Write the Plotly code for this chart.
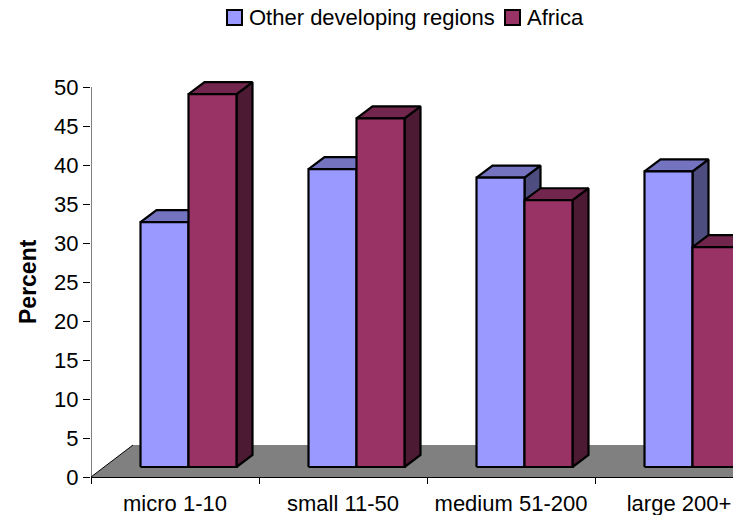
import plotly.graph_objects as go

# ---- data -------------------------------------------------------------
categories = ["micro 1-10", "small 11-50", "medium 51-200", "large 200+"]
series_names = ["Other developing regions", "Africa"]
other_developing = [31.4, 38.2, 37.1, 37.9]
africa = [47.8, 44.7, 34.2, 28.2]
y_tick_values = [0, 5, 10, 15, 20, 25, 30, 35, 40, 45, 50]

# ---- styling ----------------------------------------------------------
# face colours: front, top, side
FACE_COLORS = [
    ("#9999FF", "#7373BF", "#4D4D80"),
    ("#993366", "#73264D", "#4D1A33"),
]
FLOOR_COLOR = "#808080"
FONT = "Liberation Sans, Arial, sans-serif"
FONT_SIZE = 22

W, H = 733, 515
M_L, M_R, M_T, M_B = 91, 0, 47, 38
PX_PER_CAT = 168.0     # horizontal pixels per category
PX_PER_PCT = 7.8       # vertical pixels per percentage point
PLOT_W = W - M_L - M_R
PLOT_H = H - M_T - M_B


def ux(px):
    return px / PX_PER_CAT


def uy(px):
    return px / PX_PER_PCT


BAR_W = 1 / 3.5                 # gap width 150 %
GAP = 0.75 * BAR_W
FRONT_SHIFT = (ux(13.5), uy(10))  # bar front plane relative to floor edge
DEPTH = (ux(16), uy(12))          # depth of each bar
FLOOR_DEPTH = (ux(42), uy(32))

x_range = [-0.5, -0.5 + PLOT_W / PX_PER_CAT]
y_range = [0, PLOT_H / PX_PER_PCT]

fig = go.Figure()


def polygon(xs, ys, fill, line_color="black", line_width=2.2):
    fig.add_trace(go.Scatter(
        x=xs + [xs[0]], y=ys + [ys[0]],
        mode="lines", fill="toself", fillcolor=fill,
        line=dict(color=line_color, width=line_width),
        hoverinfo="skip", showlegend=False,
    ))


# floor of the 3-D plot
far = x_range[1] + 1
polygon([-0.5, -0.5 + FLOOR_DEPTH[0], far, far],
        [0, FLOOR_DEPTH[1], FLOOR_DEPTH[1], 0],
        FLOOR_COLOR, line_color=FLOOR_COLOR, line_width=0)
fig.add_trace(go.Scatter(
    x=[-0.5, -0.5 + FLOOR_DEPTH[0]], y=[0, FLOOR_DEPTH[1]],
    mode="lines", line=dict(color="black", width=1),
    hoverinfo="skip", showlegend=False,
))

# bars, drawn left to right so nearer faces cover the ones behind
all_series = [other_developing, africa]
for i, _ in enumerate(categories):
    for s, values in enumerate(all_series):
        v = values[i]
        front, top, side = FACE_COLORS[s]
        xl = i - 0.5 + GAP + s * BAR_W + FRONT_SHIFT[0]
        xr = xl + BAR_W
        b = FRONT_SHIFT[1]
        t = b + v
        ddx, ddy = DEPTH
        # side face
        polygon([xr, xr + ddx, xr + ddx, xr], [b, b + ddy, t + ddy, t], side)
        # top face
        polygon([xl, xr, xr + ddx, xl + ddx], [t, t, t + ddy, t + ddy], top)
        # front face
        polygon([xl, xr, xr, xl], [b, b, t, t], front)

# value axis line from 0 to 50
fig.add_shape(type="line", xref="x", yref="y",
              x0=-0.5, x1=-0.5, y0=0, y1=max(y_tick_values),
              line=dict(color="black", width=1))


# legend drawn with squares and labels
def paper_x(px):
    return (px - M_L) / PLOT_W


def paper_y(py):
    return (H - M_B - py) / PLOT_H


legend_items = [(227, 247), (505, 525)]
for (sq_x, tx_x), name, colors in zip(legend_items, series_names, FACE_COLORS):
    fig.add_shape(type="rect", xref="paper", yref="paper",
                  x0=paper_x(sq_x), x1=paper_x(sq_x + 15),
                  y0=paper_y(25), y1=paper_y(10),
                  fillcolor=colors[0], line=dict(color="black", width=2))
    fig.add_annotation(xref="paper", yref="paper",
                       x=paper_x(tx_x), y=paper_y(17.5),
                       xanchor="left", yanchor="middle", showarrow=False,
                       text=name, font=dict(family=FONT, size=FONT_SIZE, color="black"))

# value axis title
fig.add_annotation(xref="paper", yref="y", x=paper_x(28), y=25,
                   xanchor="center", yanchor="middle", showarrow=False,
                   text="<b>Percent</b>", textangle=-90,
                   font=dict(family=FONT, size=23, color="black"))

fig.update_layout(
    width=W, height=H,
    margin=dict(l=M_L, r=M_R, t=M_T, b=M_B, autoexpand=False),
    paper_bgcolor="white", plot_bgcolor="white",
    showlegend=False,
    font=dict(family=FONT, size=FONT_SIZE, color="black"),
    xaxis=dict(
        range=x_range, showgrid=False, zeroline=False,
        showline=True, linecolor="black", linewidth=1,
        tickmode="array", tickvals=list(range(len(categories))),
        ticktext=categories, ticks="",
        minor=dict(ticks="outside", tick0=-0.5, dtick=1, ticklen=6,
                   tickcolor="black", tickwidth=1),
        tickfont=dict(family=FONT, size=FONT_SIZE, color="black"),
        ticklabelstandoff=7,
    ),
    yaxis=dict(
        range=y_range, showgrid=False, zeroline=False, showline=False,
        tickmode="array", tickvals=y_tick_values,
        ticks="outside", ticklen=7, tickcolor="black", tickwidth=1,
        tickfont=dict(family=FONT, size=FONT_SIZE, color="black"),
    ),
)

fig.write_html("out.html")
